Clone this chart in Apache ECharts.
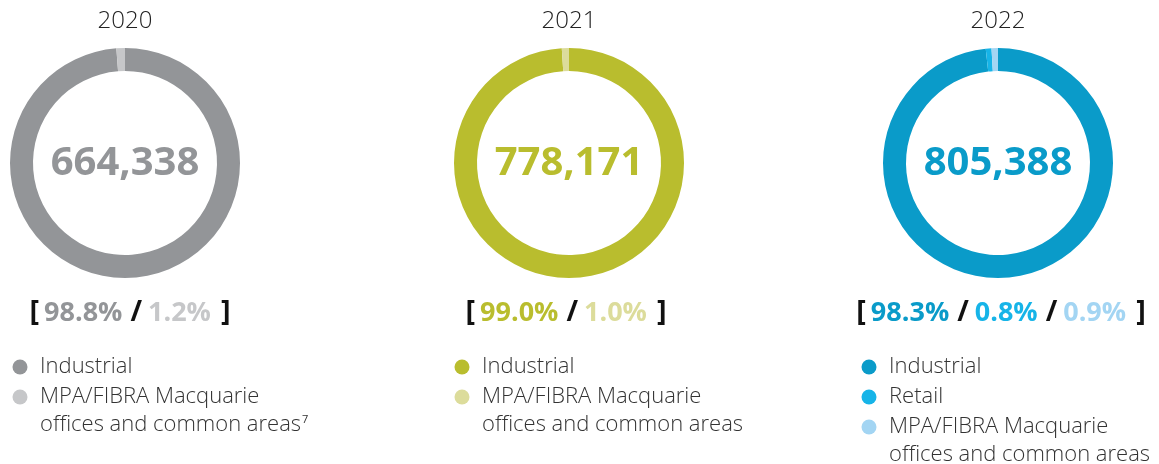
<!DOCTYPE html>
<html>
<head>
<meta charset="utf-8">
<script src="https://cdn.jsdelivr.net/npm/echarts@6/dist/echarts.min.js"></script>
<style>
  html, body { margin: 0; padding: 0; background: #fff; }
  #chart { width: 1159px; height: 464px; }
</style>
</head>
<body>
<div id="chart"></div>
<script>
// Floor area by use, one donut per year
const years = ['2020', '2021', '2022'];
const totals = [664338, 778171, 805388];

const names2020 = ['Industrial', 'MPA/FIBRA Macquarie offices and common areas'];
const shares2020 = [98.8, 1.2];
const names2021 = ['Industrial', 'MPA/FIBRA Macquarie offices and common areas'];
const shares2021 = [99.0, 1.0];
const names2022 = ['Industrial', 'Retail', 'MPA/FIBRA Macquarie offices and common areas'];
const shares2022 = [98.3, 0.8, 0.9];

// legend rows (text lines), per year
const legend2020 = [['Industrial'], ['MPA/FIBRA Macquarie', 'offices and common areas{sup|7}']];
const legend2021 = [['Industrial'], ['MPA/FIBRA Macquarie', 'offices and common areas']];
const legend2022 = [['Industrial'], ['Retail'], ['MPA/FIBRA Macquarie', 'offices and common areas']];

const palettes = [
  ['#939598', '#c6c7c9'],
  ['#b9bd2e', '#dcdc9b'],
  ['#0a9bc9', '#16b4e8', '#a3d5f3']
];

const panels = [
  { names: names2020, shares: shares2020, legend: legend2020, cx: 125, pctX: 130, legX: 20 },
  { names: names2021, shares: shares2021, legend: legend2021, cx: 569, pctX: 566, legX: 462 },
  { names: names2022, shares: shares2022, legend: legend2022, cx: 998, pctX: 1001, legX: 869 }
];

const font = '"Open Sans", "DejaVu Sans", sans-serif';
const chart = echarts.init(document.getElementById('chart'));

const series = [];
const graphic = [];

panels.forEach((p, i) => {
  const colors = palettes[i];
  series.push({
    type: 'pie',
    silent: true,
    center: [p.cx, 163],
    radius: [92, 115],
    startAngle: 90,
    clockwise: true,
    label: { show: false },
    labelLine: { show: false },
    itemStyle: { borderWidth: 0 },
    data: p.names.map((n, k) => ({ name: n, value: p.shares[k], itemStyle: { color: colors[k] } }))
  });

  // year heading
  graphic.push({
    type: 'text', x: p.cx, y: 21,
    style: { text: years[i], font: '300 24px ' + font, fill: '#222', align: 'center', verticalAlign: 'middle' }
  });
  // total in the middle of the ring
  graphic.push({
    type: 'text', x: p.cx, y: 164,
    style: {
      text: totals[i].toLocaleString('en-US'),
      font: 'bold 40px ' + font, fill: colors[0], align: 'center', verticalAlign: 'middle'
    }
  });

  // bracketed share line
  const rich = {
    bl: { fontFamily: font, fontWeight: 'bold', fontSize: 29, fill: '#111', padding: [0, 5, 0, 0] },
    br: { fontFamily: font, fontWeight: 'bold', fontSize: 29, fill: '#111', padding: [0, 0, 0, 10] },
    s: { fontFamily: font, fontWeight: 'bold', fontSize: 28, fill: '#111', padding: [0, 6, 0, 8] }
  };
  let parts = ['{bl|[}'];
  p.shares.forEach((s, k) => {
    rich['v' + k] = { fontFamily: font, fontWeight: 'bold', fontSize: 27, fill: colors[k] };
    if (k > 0) parts.push('{s|/}');
    parts.push('{v' + k + '|' + s.toFixed(1) + '%}');
  });
  parts.push('{br|]}');
  graphic.push({
    type: 'text', x: p.pctX, y: 313,
    style: { text: parts.join(''), rich: rich, align: 'center', verticalAlign: 'middle' }
  });

  // legend
  let y = 367;
  p.legend.forEach((lines, k) => {
    graphic.push({
      type: 'circle', shape: { cx: p.legX, cy: y, r: 7.5 },
      style: { fill: colors[k] }
    });
    lines.forEach((t, j) => {
      graphic.push({
        type: 'text', x: p.legX + 20, y: y + j * 28,
        style: {
          text: t,
          rich: { sup: { fontFamily: font, fontSize: 11, fill: '#333', verticalAlign: 'top', padding: [0, 0, 10, 1] } },
          font: '300 22px ' + font, fill: '#333', align: 'left', verticalAlign: 'middle'
        }
      });
    });
    y += lines.length === 1 ? 30 : 58;
  });
});

chart.setOption({
  animation: false,
  series: series,
  graphic: graphic
});
</script>
</body>
</html>
